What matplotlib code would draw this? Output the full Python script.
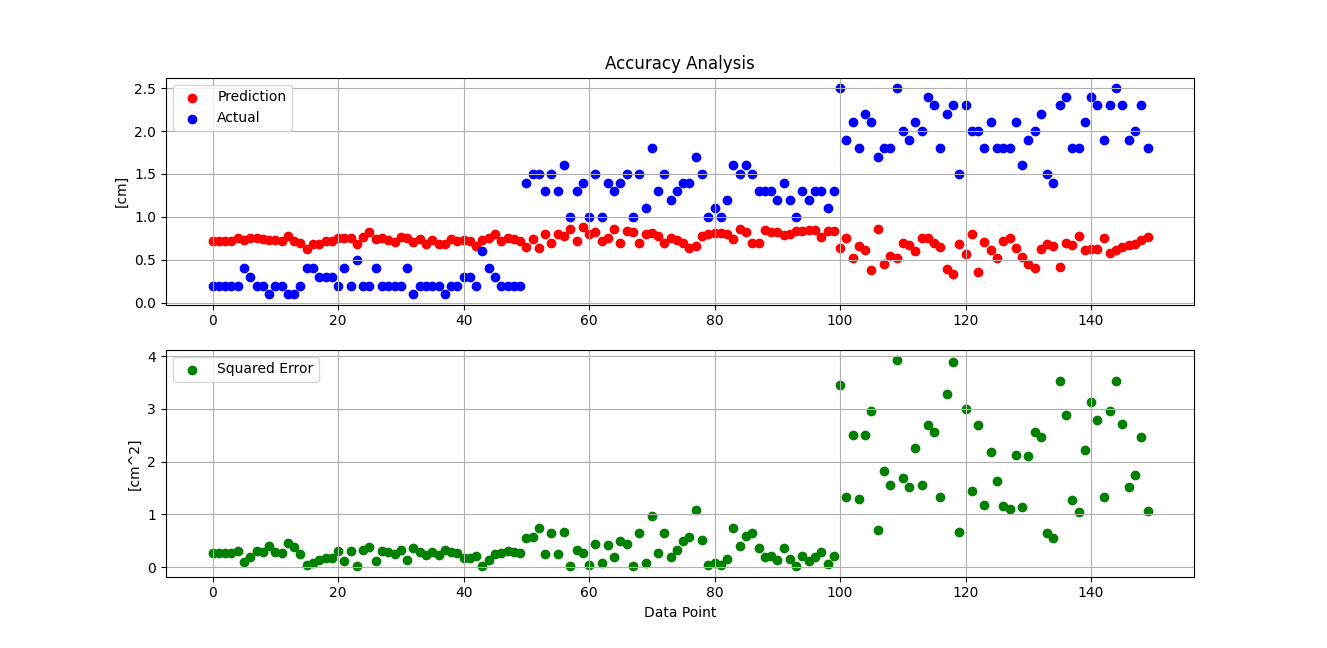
import numpy as np
import matplotlib
matplotlib.use('Agg')
import matplotlib.pyplot as plt

# ----------------------------------------------------------------------------------------------------------------------
# data

actual = [0.2, 0.2, 0.2, 0.2, 0.2, 0.4, 0.3, 0.2, 0.2, 0.1, 0.2, 0.2, 0.1, 0.1, 0.2, 0.4, 0.4, 0.3, 0.3, 0.3,
          0.2, 0.4, 0.2, 0.5, 0.2, 0.2, 0.4, 0.2, 0.2, 0.2, 0.2, 0.4, 0.1, 0.2, 0.2, 0.2, 0.2, 0.1, 0.2, 0.2,
          0.3, 0.3, 0.2, 0.6, 0.4, 0.3, 0.2, 0.2, 0.2, 0.2,
          1.4, 1.5, 1.5, 1.3, 1.5, 1.3, 1.6, 1.0, 1.3, 1.4, 1.0, 1.5, 1.0, 1.4, 1.3, 1.4, 1.5, 1.0, 1.5, 1.1,
          1.8, 1.3, 1.5, 1.2, 1.3, 1.4, 1.4, 1.7, 1.5, 1.0, 1.1, 1.0, 1.2, 1.6, 1.5, 1.6, 1.5, 1.3, 1.3, 1.3,
          1.2, 1.4, 1.2, 1.0, 1.3, 1.2, 1.3, 1.3, 1.1, 1.3,
          2.5, 1.9, 2.1, 1.8, 2.2, 2.1, 1.7, 1.8, 1.8, 2.5, 2.0, 1.9, 2.1, 2.0, 2.4, 2.3, 1.8, 2.2, 2.3, 1.5,
          2.3, 2.0, 2.0, 1.8, 2.1, 1.8, 1.8, 1.8, 2.1, 1.6, 1.9, 2.0, 2.2, 1.5, 1.4, 2.3, 2.4, 1.8, 1.8, 2.1,
          2.4, 2.3, 1.9, 2.3, 2.5, 2.3, 1.9, 2.0, 2.3, 1.8]

prediction = [0.72, 0.72, 0.72, 0.72, 0.75, 0.73, 0.75, 0.75, 0.74, 0.73, 0.73, 0.72, 0.78, 0.72, 0.70, 0.63, 0.68,
              0.68, 0.72, 0.72, 0.75, 0.75, 0.75, 0.68, 0.77, 0.82, 0.74, 0.75, 0.73, 0.71, 0.77, 0.76, 0.71, 0.74,
              0.68, 0.73, 0.69, 0.68, 0.74, 0.72, 0.73, 0.72, 0.66, 0.73, 0.76, 0.80, 0.72, 0.75, 0.74, 0.72,
              0.65, 0.74, 0.64, 0.80, 0.70, 0.80, 0.78, 0.86, 0.72, 0.88, 0.80, 0.83, 0.72, 0.75, 0.86, 0.70, 0.84,
              0.82, 0.70, 0.80, 0.81, 0.78, 0.70, 0.76, 0.73, 0.70, 0.64, 0.66, 0.78, 0.80, 0.81, 0.81, 0.80, 0.74,
              0.86, 0.83, 0.70, 0.70, 0.85, 0.83, 0.82, 0.79, 0.80, 0.84, 0.84, 0.85, 0.85, 0.77, 0.84, 0.84,
              0.64, 0.75, 0.52, 0.66, 0.62, 0.38, 0.86, 0.45, 0.55, 0.52, 0.70, 0.67, 0.60, 0.75, 0.76, 0.70, 0.65,
              0.39, 0.33, 0.68, 0.57, 0.80, 0.36, 0.71, 0.62, 0.52, 0.72, 0.75, 0.64, 0.53, 0.45, 0.40, 0.63, 0.69,
              0.66, 0.42, 0.70, 0.67, 0.78, 0.61, 0.63, 0.63, 0.75, 0.58, 0.62, 0.65, 0.67, 0.68, 0.73, 0.77]

# ----------------------------------------------------------------------------------------------------------------------
# plot

x = np.arange(len(actual))
sq_error = (np.array(prediction) - np.array(actual)) ** 2

f, (ax1, ax2) = plt.subplots(2, 1, figsize=(13.27, 6.48), dpi=100)

ax1.scatter(x, prediction, color='red', label='Prediction')
ax1.scatter(x, actual, color='blue', label='Actual')
ax1.set_title('Accuracy Analysis')
ax1.set_ylabel('[cm]')
ax1.legend(loc='upper left')
ax1.grid()

ax2.scatter(x, sq_error, color='green', label='Squared Error')
ax2.set_xlabel('Data Point')
ax2.set_ylabel('[cm^2]')
ax2.legend(loc='upper left')
ax2.grid()

f.savefig('out.png', dpi=100)
